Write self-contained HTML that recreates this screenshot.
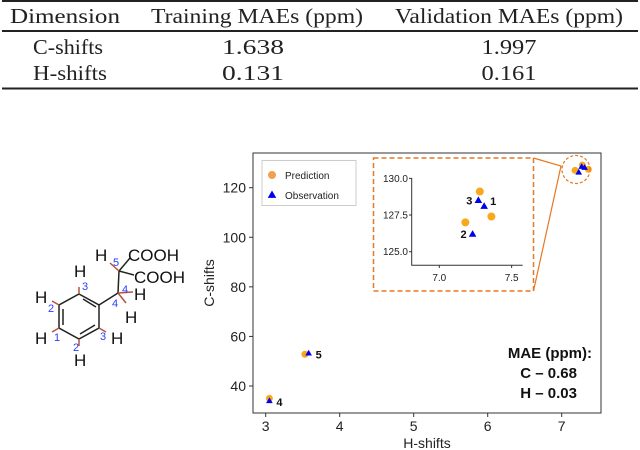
<!DOCTYPE html>
<html><head><meta charset="utf-8"><style>
body{margin:0;background:#fff;width:640px;height:450px;overflow:hidden;position:relative}
svg{position:absolute;left:0;top:0}
</style></head><body>
<svg width="640" height="450" font-family="Liberation Sans, sans-serif">
<g font-family="Liberation Serif, serif" font-size="21" fill="#222" text-anchor="middle">
<line x1="2" y1="1" x2="638" y2="1" stroke="#222" stroke-width="2"/>
<text x="65" y="23" textLength="110" lengthAdjust="spacingAndGlyphs">Dimension</text>
<text x="257" y="23" textLength="212" lengthAdjust="spacingAndGlyphs">Training MAEs (ppm)</text>
<text x="509" y="23" textLength="228" lengthAdjust="spacingAndGlyphs">Validation MAEs (ppm)</text>
<line x1="2" y1="31" x2="638" y2="31" stroke="#222" stroke-width="2"/>
<text x="68" y="54" textLength="70" lengthAdjust="spacingAndGlyphs">C-shifts</text>
<text x="253" y="54" textLength="62" lengthAdjust="spacingAndGlyphs">1.638</text>
<text x="509" y="54" textLength="55" lengthAdjust="spacingAndGlyphs">1.997</text>
<text x="70" y="80" textLength="74" lengthAdjust="spacingAndGlyphs">H-shifts</text>
<text x="253" y="80" textLength="62" lengthAdjust="spacingAndGlyphs">0.131</text>
<text x="509" y="80" textLength="55" lengthAdjust="spacingAndGlyphs">0.161</text>
<line x1="2" y1="88.5" x2="638" y2="88.5" stroke="#222" stroke-width="2"/>
</g>
<g stroke="#222" stroke-width="1.5" fill="none">
<polygon points="79,294 99,305 99,328 79,339 59,328 59,305"/>
<line x1="83" y1="299" x2="96" y2="307"/><line x1="95" y1="325" x2="80" y2="334"/><line x1="63" y1="309" x2="63" y2="325"/>
<line x1="99" y1="305" x2="118" y2="293"/><line x1="118" y1="293" x2="119" y2="271"/>
<line x1="119" y1="271" x2="130" y2="258"/><line x1="119" y1="271" x2="134" y2="275"/>
<g stroke="#b5533c"><line x1="79" y1="294" x2="79" y2="287"/><line x1="59" y1="305" x2="52" y2="301"/><line x1="59" y1="328" x2="52" y2="332"/><line x1="79" y1="339" x2="79" y2="346"/><line x1="99" y1="328" x2="106" y2="332"/><line x1="118" y1="293" x2="133" y2="292"/><line x1="118" y1="293" x2="126" y2="303"/><line x1="119" y1="271" x2="110" y2="263"/></g>
</g>
<g font-size="17" fill="#111">
<text x="128" y="261">COOH</text><text x="134" y="283">COOH</text>
<text x="95" y="261">H</text><text x="74" y="277">H</text><text x="35" y="303">H</text><text x="35" y="344">H</text><text x="74" y="366">H</text><text x="111" y="344">H</text><text x="134" y="300">H</text><text x="125" y="323">H</text>
</g>
<g font-size="11" fill="#2a3cff">
<text x="113" y="266">5</text><text x="82" y="290">3</text><text x="122" y="293">4</text><text x="112" y="307">4</text><text x="48" y="312">2</text><text x="54" y="341">1</text><text x="73" y="351">2</text><text x="100" y="340">3</text>
</g>
<g id="chart"></g>
</svg>
<script>
const mainPredX=[3.05,3.53,7.18,7.28,7.36];
const mainPredY=[35,52.8,127.0,129.1,127.4];
const mainObsX=[3.05,3.58,7.23,7.27,7.31];
const mainObsY=[34,53.2,126.2,128.5,128.1];
const xTicks=[3,4,5,6,7];
const yTicks=[40,60,80,100,120];
const insetPredX=[7.18,7.28,7.36];
const insetPredY=[127.0,129.1,127.4];
const insetObsX=[7.23,7.27,7.31];
const insetObsY=[126.2,128.5,128.1];
const insetXTicks=[7.0,7.5];
const insetYTicks=[125.0,127.5,130.0];
const pointLabels=[{t:'4',x:3.05,y:34},{t:'5',x:3.58,y:53.2}];
const insetLabels=[{t:'2',x:7.23,y:126.2,side:-1},{t:'3',x:7.27,y:128.5,side:-1},{t:'1',x:7.31,y:128.1,side:1}];

const NS='http://www.w3.org/2000/svg';
const g=document.getElementById('chart');
function mk(tag,attrs,parent){const e=document.createElementNS(NS,tag);for(const k in attrs)e.setAttribute(k,attrs[k]);(parent||g).appendChild(e);return e;}
const X=v=>265.7+(v-3)*74;
const Y=v=>386-(v-40)*2.479;
const IX=v=>439.3+(v-7)*144.7;
const IY=v=>251.7-(v-125)*14.67;
const ORANGE='#f9a81b', BLUE='#0000ee';
function tri(cx,cy,s){return `${cx},${cy-s} ${cx-s*0.95},${cy+s*0.65} ${cx+s*0.95},${cy+s*0.65}`;}

let e=mk('rect',{x:253,y:153,width:348,height:260,fill:'none',stroke:'#333','stroke-width':1});


xTicks.forEach(v=>{
  let t=mk('line',{x1:X(v),x2:X(v),y1:413,y2:417,stroke:'#333'});
  
  
  let l=mk('text',{x:X(v),y:431,'font-size':14,'text-anchor':'middle',fill:'#222'});l.textContent=v;
  
  
});
yTicks.forEach(v=>{
  let t=mk('line',{x1:249,x2:253,y1:Y(v),y2:Y(v),stroke:'#333'});
  
  
  let l=mk('text',{x:246,y:Y(v)+5,'font-size':14,'text-anchor':'end',fill:'#222'});l.textContent=v;
  
  
});
e=mk('text',{x:427,y:448,'font-size':14,'text-anchor':'middle',fill:'#222'});e.textContent='H-shifts';


e=mk('text',{x:0,y:0,'font-size':14,'text-anchor':'middle',fill:'#222',transform:'translate(214,283) rotate(-90)'});e.textContent='C-shifts';



e=mk('rect',{x:262,y:160.5,width:94,height:45,fill:'#fff',stroke:'#ccc'});


e=mk('circle',{cx:272,cy:175,r:4,fill:'#f0a050'});


e=mk('text',{x:285,y:179,'font-size':10,fill:'#222'});e.textContent='Prediction';


e=mk('polygon',{points:tri(272,195,4.5),fill:BLUE});


e=mk('text',{x:285,y:199,'font-size':10,fill:'#222'});e.textContent='Observation';



mainPredX.forEach((v,i)=>{
  let p=mk('circle',{cx:X(v),cy:Y(mainPredY[i]),r:3.5,fill:ORANGE});
  
  
});
mainObsX.forEach((v,i)=>{
  let p=mk('polygon',{points:tri(X(v),Y(mainObsY[i]),3.5),fill:BLUE});
  
  
});
pointLabels.forEach(o=>{
  let l=mk('text',{x:X(o.x)+7,y:Y(o.y)+5,'font-size':11,'font-weight':'bold',fill:'#111'});l.textContent=o.t;
  
  
});

e=mk('circle',{cx:576,cy:169.5,r:14,fill:'none',stroke:'#e87722','stroke-dasharray':'3,2','stroke-width':1.2});


e=mk('rect',{x:373.5,y:158,width:160,height:133,fill:'none',stroke:'#e87722','stroke-dasharray':'5,3','stroke-width':1.5});


e=mk('polyline',{points:'533.5,158 561,166 533.5,291',fill:'none',stroke:'#e87722','stroke-width':1.2});



e=mk('polyline',{points:'411.7,178 411.7,265.3 522.7,265.3',fill:'none',stroke:'#333'});


insetXTicks.forEach(v=>{
  let t=mk('line',{x1:IX(v),x2:IX(v),y1:265.3,y2:268,stroke:'#333'});
  
  
  let l=mk('text',{x:IX(v),y:281,'font-size':10,'text-anchor':'middle',fill:'#222'});l.textContent=v.toFixed(1);
  
  
});
insetYTicks.forEach(v=>{
  let t=mk('line',{x1:409,x2:411.7,y1:IY(v),y2:IY(v),stroke:'#333'});
  
  
  let l=mk('text',{x:408,y:IY(v)+3.5,'font-size':10,'text-anchor':'end',fill:'#222'});l.textContent=v.toFixed(1);
  
  
});
insetPredX.forEach((v,i)=>{
  let p=mk('circle',{cx:IX(v),cy:IY(insetPredY[i]),r:4,fill:ORANGE});
  
  
});
insetObsX.forEach((v,i)=>{
  let p=mk('polygon',{points:tri(IX(v),IY(insetObsY[i]),4),fill:BLUE});
  
  
});
insetLabels.forEach(o=>{
  let l=mk('text',{x:IX(o.x)+(o.side<0?-6:6),y:IY(o.y)+(o.t==='1'?-1:4),'font-size':11,'font-weight':'bold',fill:'#111','text-anchor':o.side<0?'end':'start'});l.textContent=o.t;
  
  
});

['MAE (ppm):','C – 0.68','H – 0.03'].forEach((s,i)=>{
  let l=mk('text',{x:i===0?592:577,y:358+i*20,'font-size':15,'font-weight':'bold','text-anchor':'end',fill:'#111'});l.textContent=s;
  
  
});
</script>
</body></html>
